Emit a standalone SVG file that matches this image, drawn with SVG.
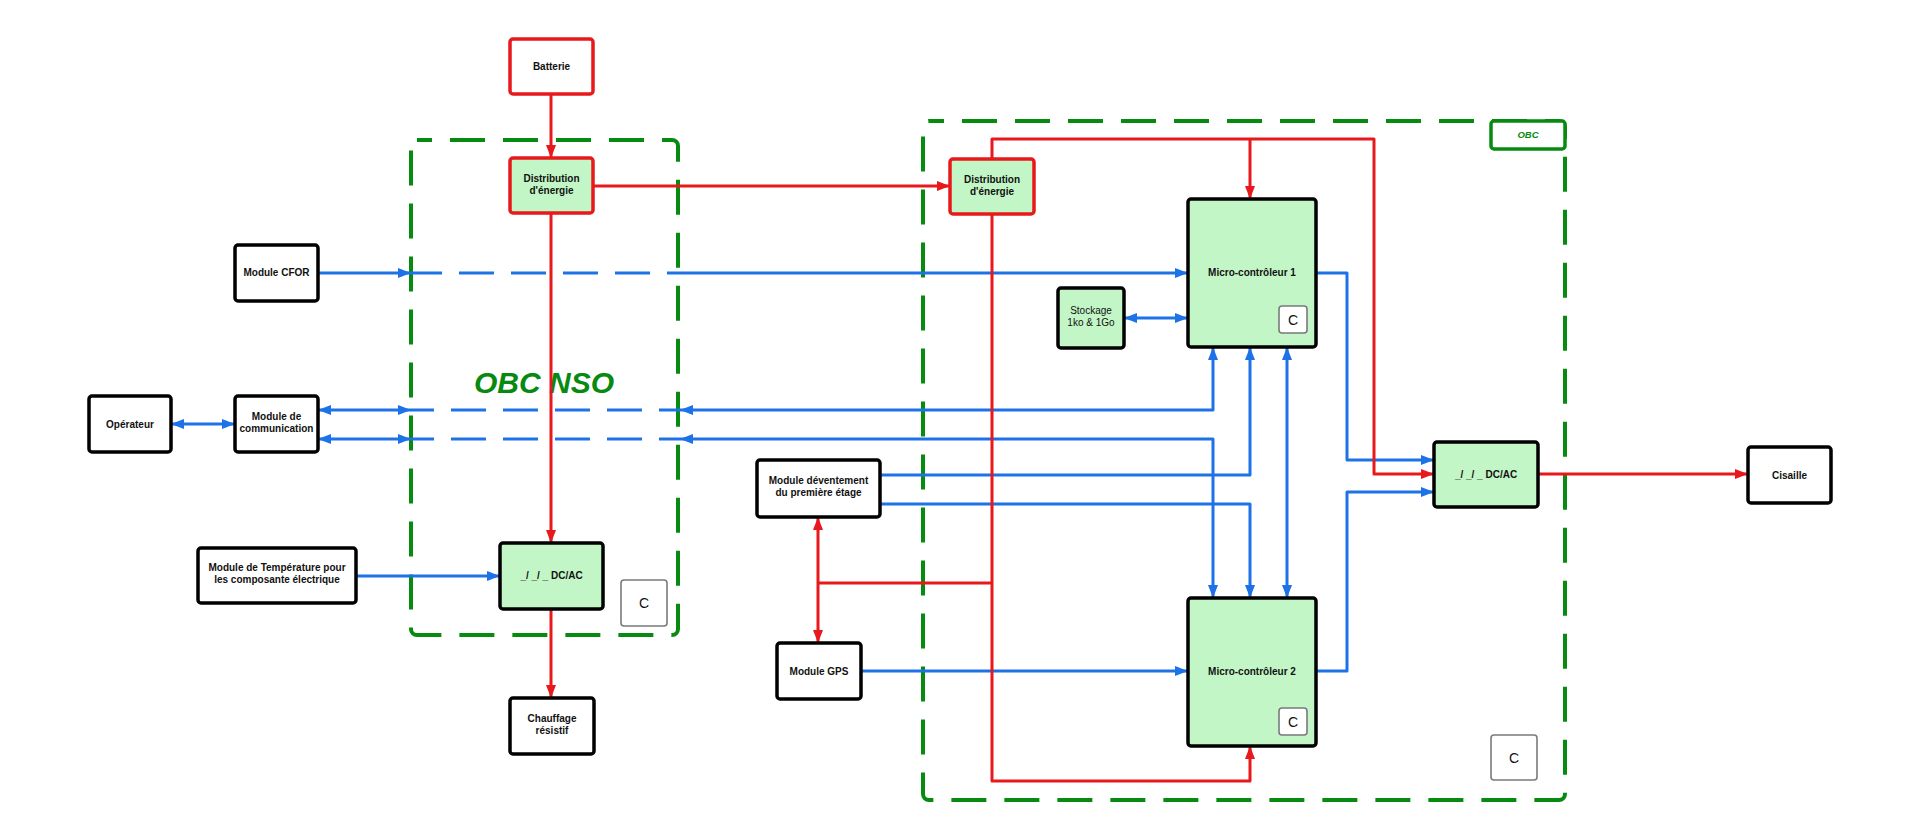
<svg xmlns="http://www.w3.org/2000/svg" width="1920" height="840" viewBox="0 0 1920 840">
  <style>
    text { font-family: "Liberation Sans", Arial, sans-serif; font-size: 10px; font-weight: bold; fill: #111; text-anchor: middle; }
    .reg { font-weight: normal; }
    .box { fill: #ffffff; stroke: #000; stroke-width: 3.5; }
    .green { fill: #c3f6c6; }
    .redb { stroke: #e8191c; }
    .cbox { fill: #ffffff; stroke: #7a7a7a; stroke-width: 1.6; }
    .ctext { font-weight: normal; font-size: 14px; }
    .zone { fill: none; stroke: #078a10; stroke-width: 4; stroke-dasharray: 35 18; stroke-dashoffset: 20; }
    .blue { fill: none; stroke: #1c72e6; stroke-width: 3; stroke-linejoin: round; }
    .red { fill: none; stroke: #e8191c; stroke-width: 3; stroke-linejoin: round; }
    .dash { stroke-dasharray: 35 17; }
  </style>
  <defs>
    <marker id="arrowBlue" markerUnits="userSpaceOnUse" markerWidth="14" markerHeight="10" refX="13" refY="5" orient="auto-start-reverse">
      <path d="M0,0 L13,5 L0,10 z" fill="#1c72e6"/>
    </marker>
    <marker id="arrowRed" markerUnits="userSpaceOnUse" markerWidth="14" markerHeight="10" refX="13" refY="5" orient="auto-start-reverse">
      <path d="M0,0 L13,5 L0,10 z" fill="#e8191c"/>
    </marker>
  </defs>
  <rect width="1920" height="840" fill="#ffffff"/>

  <!-- subsystem frames -->
  <g id="zones">
    <rect class="zone" x="411" y="140" width="267" height="495" rx="6"/>
    <text x="544" y="393" style="font-size:30px;font-style:italic;fill:#078a10">OBC NSO</text>
    <rect class="zone" x="923" y="121" width="642" height="679" rx="6"/>
    <rect x="1491" y="121" width="74" height="28" rx="3" fill="#ffffff" stroke="#078a10" stroke-width="3.5"/>
    <text x="1528" y="138" style="font-size:9.5px;font-style:italic;fill:#078a10">OBC</text>
  </g>

  <!-- connectors -->
  <g id="connectors">
    <g id="signal">
      <path class="blue" d="M318,273 H411" marker-end="url(#arrowBlue)"/>
      <path class="blue dash" d="M411,273 H680" stroke-dashoffset="4"/>
      <path class="blue" d="M680,273 H1188" marker-end="url(#arrowBlue)"/>
      <path class="blue" d="M171,424 H235" marker-start="url(#arrowBlue)" marker-end="url(#arrowBlue)"/>
      <path class="blue" d="M318,410 H411" marker-start="url(#arrowBlue)" marker-end="url(#arrowBlue)"/>
      <path class="blue dash" d="M411,410 H680" stroke-dashoffset="12"/>
      <path class="blue" d="M318,439 H411" marker-start="url(#arrowBlue)" marker-end="url(#arrowBlue)"/>
      <path class="blue dash" d="M411,439 H680" stroke-dashoffset="12"/>
      <path class="blue" d="M680,410 H1213 V347" marker-start="url(#arrowBlue)" marker-end="url(#arrowBlue)"/>
      <path class="blue" d="M680,439 H1213 V598" marker-start="url(#arrowBlue)" marker-end="url(#arrowBlue)"/>
      <path class="blue" d="M1124,318 H1188" marker-start="url(#arrowBlue)" marker-end="url(#arrowBlue)"/>
      <path class="blue" d="M880,475 H1250 V347" marker-end="url(#arrowBlue)"/>
      <path class="blue" d="M880,504 H1250 V598" marker-end="url(#arrowBlue)"/>
      <path class="blue" d="M1287,347 V598" marker-start="url(#arrowBlue)" marker-end="url(#arrowBlue)"/>
      <path class="blue" d="M861,671 H1188" marker-end="url(#arrowBlue)"/>
      <path class="blue" d="M1316,273 H1347 V460 H1434" marker-end="url(#arrowBlue)"/>
      <path class="blue" d="M1316,671 H1347 V492 H1434" marker-end="url(#arrowBlue)"/>
      <path class="blue" d="M356,576 H500" marker-end="url(#arrowBlue)"/>
    </g>
    <g id="power">
      <path class="red" d="M551,94 V158" marker-end="url(#arrowRed)"/>
      <path class="red" d="M551,213 V543" marker-end="url(#arrowRed)"/>
      <path class="red" d="M551,609 V698" marker-end="url(#arrowRed)"/>
      <path class="red" d="M593,186 H950" marker-end="url(#arrowRed)"/>
      <path class="red" d="M992,159 V139 H1374 V474 H1434" marker-end="url(#arrowRed)"/>
      <path class="red" d="M1250,139 V199" marker-end="url(#arrowRed)"/>
      <path class="red" d="M992,214 V781 H1250 V746" marker-end="url(#arrowRed)"/>
      <path class="red" d="M992,583 H818"/>
      <path class="red" d="M818,517 V643" marker-start="url(#arrowRed)" marker-end="url(#arrowRed)"/>
      <path class="red" d="M1538,474 H1748" marker-end="url(#arrowRed)"/>
    </g>
  </g>

  <!-- blocks -->
  <g id="batterie">
    <rect class="box redb" x="510" y="39" width="83" height="55" rx="3"/>
    <text x="551.5" y="70">Batterie</text>
  </g>
  <g id="distribution-nso">
    <rect class="box green redb" x="510" y="158" width="83" height="55" rx="3"/>
    <text x="551.5" y="182">Distribution</text>
    <text x="551.5" y="194">d'énergie</text>
  </g>
  <g id="module-cfor">
    <rect class="box" x="235" y="245" width="83" height="56" rx="3"/>
    <text x="276.5" y="276">Module CFOR</text>
  </g>
  <g id="operateur">
    <rect class="box" x="89" y="396" width="82" height="56" rx="3"/>
    <text x="130" y="427.5">Opérateur</text>
  </g>
  <g id="module-communication">
    <rect class="box" x="235" y="396" width="83" height="56" rx="3"/>
    <text x="276.5" y="420">Module de</text>
    <text x="276.5" y="432">communication</text>
  </g>
  <g id="module-temperature">
    <rect class="box" x="198" y="548" width="158" height="55" rx="3"/>
    <text x="277" y="571">Module de Température pour</text>
    <text x="277" y="583">les composante électrique</text>
  </g>
  <g id="dcac-nso">
    <rect class="box green" x="500" y="543" width="103" height="66" rx="3"/>
    <text x="551.5" y="579">_/ _/ _  DC/AC</text>
  </g>
  <g id="c-nso">
    <rect class="cbox" x="621" y="580" width="46" height="46" rx="3"/>
    <text class="ctext" x="644" y="608">C</text>
  </g>
  <g id="chauffage">
    <rect class="box" x="510" y="698" width="84" height="56" rx="3"/>
    <text x="552" y="722">Chauffage</text>
    <text x="552" y="734">résistif</text>
  </g>

  <g id="distribution-obc">
    <rect class="box green redb" x="950" y="159" width="84" height="55" rx="3"/>
    <text x="992" y="183">Distribution</text>
    <text x="992" y="195">d'énergie</text>
  </g>
  <g id="micro-controleur-1">
    <rect class="box green" x="1188" y="199" width="128" height="148" rx="3"/>
    <text x="1252" y="276">Micro-contrôleur 1</text>
    <rect class="cbox" x="1279" y="306" width="28" height="27" rx="3"/>
    <text class="ctext" x="1293" y="324.5">C</text>
  </g>
  <g id="stockage">
    <rect class="box green" x="1058" y="288" width="66" height="60" rx="3"/>
    <text class="reg" x="1091" y="314">Stockage</text>
    <text class="reg" x="1091" y="326">1ko &amp; 1Go</text>
  </g>
  <g id="module-deventement">
    <rect class="box" x="757" y="460" width="123" height="57" rx="3"/>
    <text x="818.5" y="484">Module déventement</text>
    <text x="818.5" y="496">du première étage</text>
  </g>
  <g id="module-gps">
    <rect class="box" x="777" y="643" width="84" height="56" rx="3"/>
    <text x="819" y="674.5">Module GPS</text>
  </g>
  <g id="micro-controleur-2">
    <rect class="box green" x="1188" y="598" width="128" height="148" rx="3"/>
    <text x="1252" y="674.5">Micro-contrôleur 2</text>
    <rect class="cbox" x="1279" y="708" width="28" height="27" rx="3"/>
    <text class="ctext" x="1293" y="726.5">C</text>
  </g>
  <g id="dcac-obc">
    <rect class="box green" x="1434" y="442" width="104" height="65" rx="3"/>
    <text x="1486" y="478">_/ _/ _  DC/AC</text>
  </g>
  <g id="cisaille">
    <rect class="box" x="1748" y="447" width="83" height="56" rx="3"/>
    <text x="1789.5" y="478.5">Cisaille</text>
  </g>
  <g id="c-obc">
    <rect class="cbox" x="1491" y="735" width="46" height="45" rx="3"/>
    <text class="ctext" x="1514" y="762.5">C</text>
  </g>
</svg>
